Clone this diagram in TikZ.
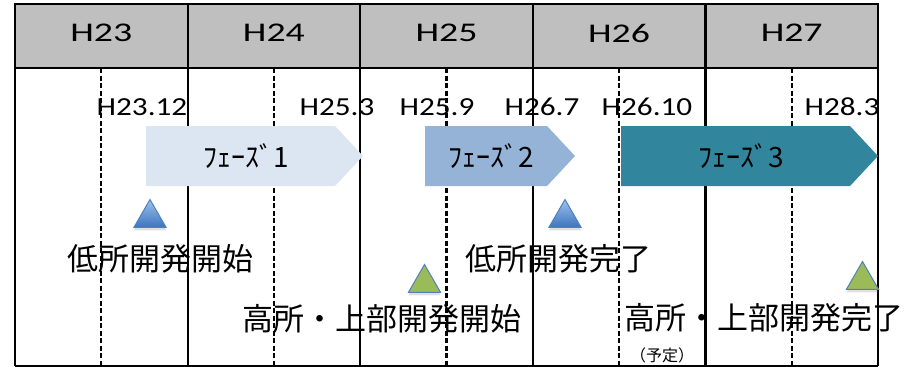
\documentclass[tikz,border=0pt]{standalone}
\usepackage{fontspec}
\setmainfont{Noto Sans CJK JP}
\newfontfamily\yearfont[FakeStretch=1.4]{Carlito}
\newfontfamily\datefont[FakeStretch=1.2]{Carlito}
\usetikzlibrary{
  positioning,
  shapes.geometric,
  shapes.symbols,
  shadows,
}
\definecolor{headgray}{HTML}{BFBFBF}
\definecolor{phaseone}{HTML}{DCE6F2}
\definecolor{phasetwo}{HTML}{95B3D7}
\definecolor{phasethree}{HTML}{31859C}
\definecolor{markblue}{HTML}{4F81BD}
\definecolor{marklight}{HTML}{9CC2EE}
\definecolor{markdark}{HTML}{3E74BD}
\definecolor{markgreen}{HTML}{9BBB59}
\tikzset{
  yearcell/.style={draw, line width=2.2pt, fill=headgray, minimum width=172.6pt,
    minimum height=64pt, inner sep=0pt, outer sep=0pt, text depth=6pt,
    font=\yearfont\fontsize{27}{27}\selectfont},
  datelabel/.style={anchor=base, inner sep=0pt, font=\datefont\fontsize{26}{26}\selectfont},
  milestone/.style={inner sep=0pt, font=\fontsize{31}{31}\selectfont},
  gridline/.style={line width=2.2pt},
  phase/.style={signal, signal to=east, signal pointer angle=94, minimum height=60pt,
    inner sep=0pt, outer sep=0pt, anchor=west},
  phasetext/.style={xshift=5.5pt, inner sep=0pt, font=\fontsize{28}{28}\selectfont},
  milemark/.style={regular polygon, regular polygon sides=3, minimum size=37pt, inner sep=0pt,
    draw=markblue, line width=1pt,
    drop shadow={shadow xshift=0pt, shadow yshift=-3pt, opacity=0.25}},
  bluemark/.style={milemark, top color=marklight, bottom color=markdark},
  greenmark/.style={milemark, fill=markgreen},
}
\begin{document}
\begin{tikzpicture}[x=1pt, y=-1pt]
  \useasboundingbox (0,0) rectangle (906,367);
  % year header
  \node[yearcell] (y23) at (101.3,36) {H23};
  \node[yearcell] (y24) [right=0pt of y23] {H24};
  \node[yearcell] (y25) [right=0pt of y24] {H25};
  \node[yearcell] (y26) [right=0pt of y25] {H26};
  \node[yearcell] (y27) [right=0pt of y26] {H27};
  \coordinate (bot) at (0,366);

  % dates
  \node[datelabel] (d2312) at (142,115) {H23.12};
  \node[datelabel] (d2503) at (337,115) {H25.3};
  \node[datelabel] (d2509) at (437,115) {H25.9};
  \node[datelabel] (d2607) at (542,115) {H26.7};
  \node[datelabel] (d2610) at (647,115) {H26.10};
  \node[datelabel] (d2803) at (842,115) {H28.3};

  % milestone texts
  \node[milestone] (lowstart) at (160,259) {低所開発開始};
  \node[milestone] (lowend) at (558,259) {低所開発完了};
  \node[milestone] (highstart) at (382,319) {高所・上部開発開始};
  \node[milestone] (highend) at (764,318) {高所・上部開発完了};
  \node[inner sep=0pt, font=\fontsize{16}{16}\selectfont] (plan) at (662,355) {（予定）};

  % grid
  \foreach \c in {y23,y24,y25,y26,y27} {
    \draw[gridline] (\c.south west) -- (\c.south west |- bot);
    \draw[gridline, dash pattern=on 5pt off 2.5pt] (\c.south) -- (\c.south |- bot);
  }
  \draw[gridline] (y27.south east) -- (y27.south east |- bot);
  \draw[gridline] (y23.south west |- bot) -- (y27.south east |- bot);

  % phases
  \node[phase, fill=phaseone, minimum width=217pt,
    label={[phasetext]center:ﾌｪｰｽﾞ1}] (ph1) at (146,156) {};
  \node[phase, fill=phasetwo, minimum width=150pt,
    label={[phasetext]center:ﾌｪｰｽﾞ2}] (ph2) at (425,156) {};
  \node[phase, fill=phasethree, minimum width=257pt,
    label={[phasetext]center:ﾌｪｰｽﾞ3}] (ph3) at (621,156) {};

  % milestones
  \node[bluemark] (m1) at (150,218) {};
  \node[bluemark] (m2) at (565,218) {};
  \node[greenmark] (m3) at (424.5,283) {};
  \node[greenmark] (m4) at (862.5,280) {};
\end{tikzpicture}
\end{document}
